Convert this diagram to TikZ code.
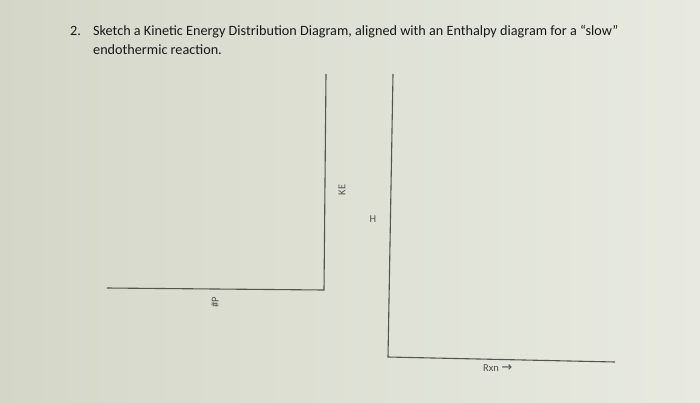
\documentclass[tikz,border=0pt]{standalone}
\usepackage{fontspec}
\setmainfont{Carlito}
\newfontfamily\arrowfont{DejaVu Sans}
\usetikzlibrary{positioning}
\definecolor{paper}{RGB}{212,215,200}
\definecolor{paperlight}{RGB}{232,234,225}
\definecolor{ink}{RGB}{25,25,25}
\definecolor{axisgray}{RGB}{85,85,75}
\definecolor{labelgray}{RGB}{80,80,80}
\tikzset{
	axis/.style={line width=1.1pt, axisgray},
	axislabel/.style={labelgray, inner sep=0pt, font=\fontsize{10.5}{12}\selectfont},
	question/.style={ink, inner sep=0pt, anchor=base west, font=\fontsize{14.2}{16}\selectfont}
}
% L shaped axes: #1 top, #2 corner, #3 end of the horizontal line
\newcommand{\axes}[3]{
	\draw [axis] (#1) -- (#2) -- (#3);
}

\begin{document}
\begin{tikzpicture}[x=1pt, y=-1pt]
\shade [left color=paper, right color=paperlight] (0 ,0) rectangle (700 ,402);
\useasboundingbox (0 ,0) rectangle (700 ,402);

% question text
\node [question] (num) at (70 ,35) {2.};
\node [question] (line1) at (93 ,35) {Sketch a Kinetic Energy Distribution Diagram, aligned with an Enthalpy diagram for a “slow”};
\node [question] (line2) at (93 ,54) {endothermic reaction.};

% kinetic energy distribution
\coordinate (ketop) at (326 ,74);
\coordinate (keorigin) at (324 ,290);
\coordinate (keend) at (107 ,288);
\axes{ketop}{keorigin}{keend}
\node [axislabel, rotate=90] (ke) at (342 ,190) {KE};
\node [axislabel, rotate=90] (np) at (215 ,302) {\#P};

% enthalpy diagram
\coordinate (htop) at (393 ,74);
\coordinate (horigin) at (388 ,357);
\coordinate (hend) at (615 ,362);
\axes{htop}{horigin}{hend}
\node [axislabel] (h) at (373 ,219) {H};
\node [axislabel, anchor=west] (rxn) at (483 ,368) {Rxn {\arrowfont\fontsize{13}{14}\selectfont →}};
\end{tikzpicture}
\end{document}
